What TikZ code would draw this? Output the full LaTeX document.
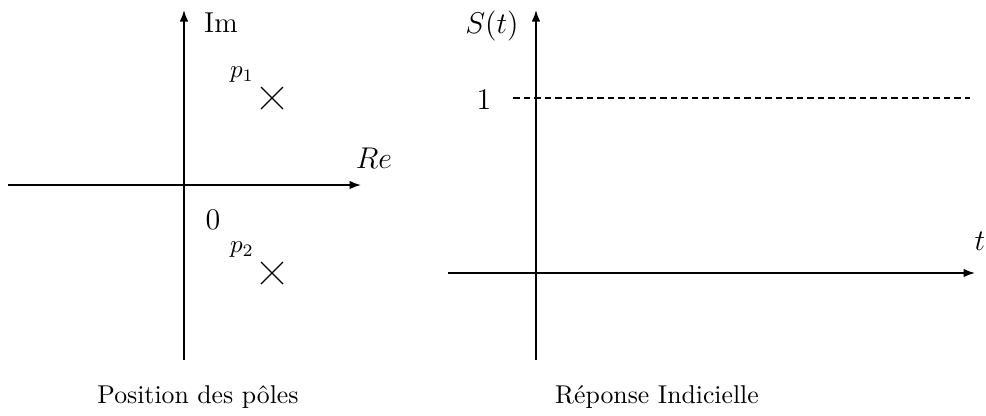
\documentclass[tikz,border=0pt]{standalone}
\usetikzlibrary{arrows.meta}
\begin{document}
\begin{tikzpicture}[x=0.4pt,y=-0.4pt,
  axis/.style={line width=0.6pt,-{Latex[length=4.6pt,width=3.4pt]}},
  lbl/.style={inner sep=0pt,font=\fontsize{11.5}{13}\selectfont},
  plbl/.style={inner sep=0pt,font=\fontsize{10}{12}\selectfont},
  captxt/.style={inner sep=0pt,font=\fontsize{10.3}{12}\selectfont},
  pole/.style={line width=0.5pt},
  dline/.style={line width=0.5pt,dash pattern=on 2.6pt off 1.6pt}]
\useasboundingbox (0,0) rectangle (986,415);
% left: pole plane
\coordinate (imb) at (184,360);
\coordinate (imt) at (184,10);
\coordinate (rel) at (8,185);
\coordinate (rer) at (361,185);
\draw[axis] (imb) -- (imt);
\draw[axis] (rel) -- (rer);
\node[lbl] (im) at (221,23) {Im};
\node[lbl] (re) at (374,158) {$Re$};
\node[lbl] (zero) at (213,220) {$0$};
\node[plbl] (p1) at (242,75) {$p_1$};
\node[plbl] (p2) at (242,250) {$p_2$};
\coordinate (c1) at (272,98);
\coordinate (c2) at (272,273);
\draw[pole] ([shift={(-11,-11)}]c1) -- ([shift={(11,11)}]c1)
            ([shift={(-11,11)}]c1) -- ([shift={(11,-11)}]c1);
\draw[pole] ([shift={(-11,-11)}]c2) -- ([shift={(11,11)}]c2)
            ([shift={(-11,11)}]c2) -- ([shift={(11,-11)}]c2);
\node[captxt] (cap1) at (198,397) {Position des pôles};
% right: step response
\coordinate (sb) at (536,360);
\coordinate (st) at (536,10);
\coordinate (tl) at (448,273);
\coordinate (tr) at (975,273);
\draw[axis] (sb) -- (st);
\draw[axis] (tl) -- (tr);
\node[lbl] (s) at (492,26) {$S(t)$};
\node[lbl] (one) at (484,100) {$1$};
\node[lbl] (t) at (980,241) {$t$};
\coordinate (dl) at (513,98);
\coordinate (dr) at (970,98);
\draw[dline] (dl) -- (dr);
\node[captxt] (cap2) at (657,397) {Réponse Indicielle};
\end{tikzpicture}
\end{document}
